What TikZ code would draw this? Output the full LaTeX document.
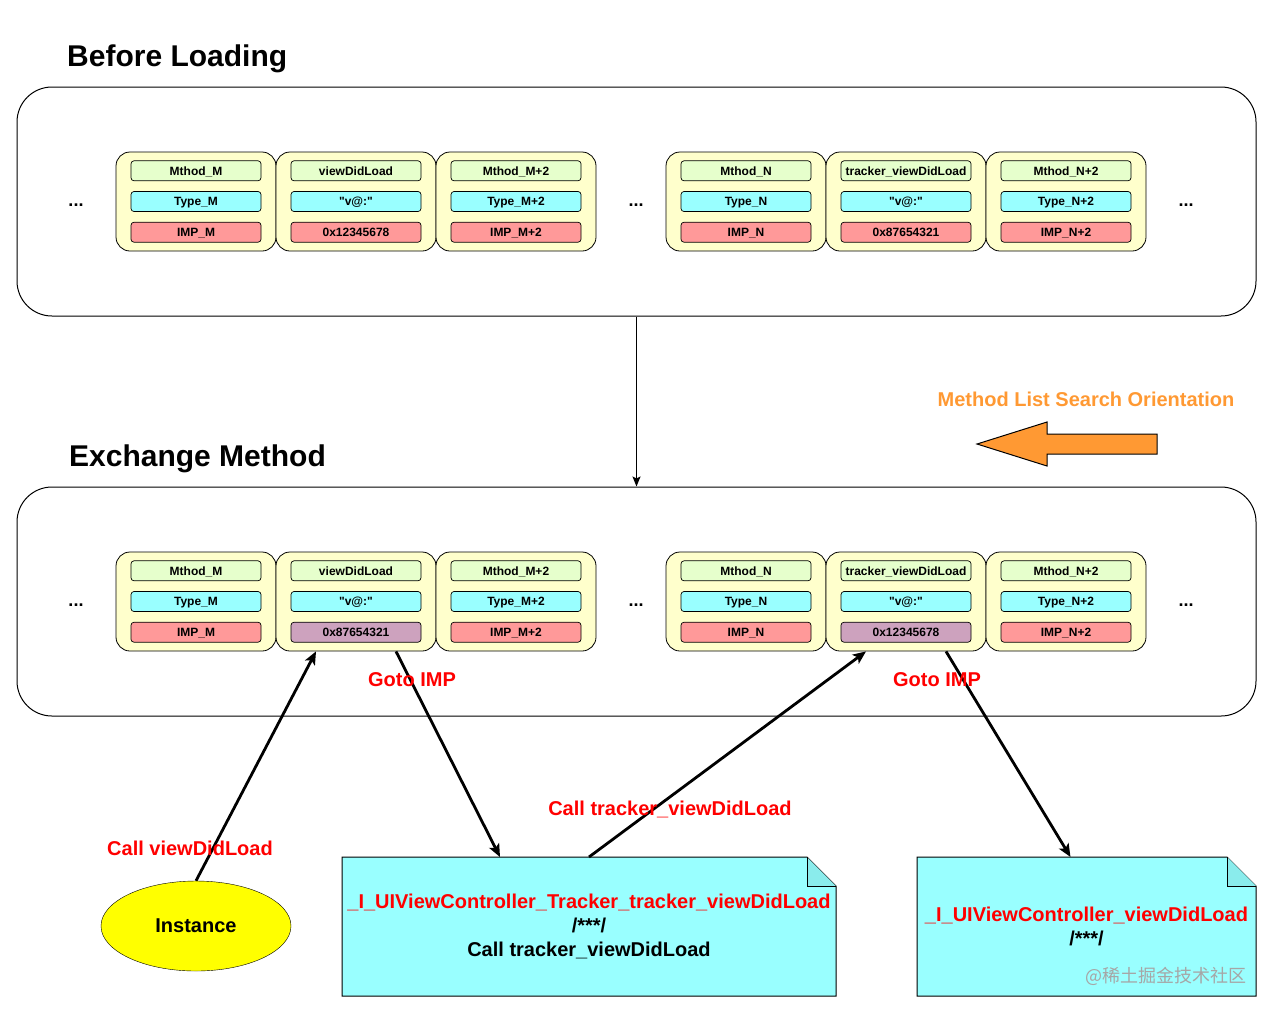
\documentclass[tikz,border=0pt]{standalone}
\usepackage{fontspec}
\setmainfont{Liberation Sans}
\newfontfamily\cjkfont{Noto Sans CJK SC}
\usetikzlibrary{
    arrows.meta,
    positioning,
    backgrounds,
    shapes.geometric
}
\newcommand{\fsz}[1]{\fontsize{#1}{#1}\selectfont}
\definecolor{CardYellow}{RGB}{255,255,204}
\definecolor{NameGreen}{RGB}{230,255,204}
\definecolor{TypeCyan}{RGB}{153,255,255}
\definecolor{ImpRed}{RGB}{255,153,153}
\definecolor{ImpSwap}{RGB}{205,162,190}
\definecolor{ArrowOrange}{RGB}{255,153,51}
\definecolor{NoteCyan}{RGB}{153,255,255}
\definecolor{FoldCyan}{RGB}{138,236,236}
\definecolor{InstYellow}{RGB}{255,255,0}
\definecolor{TextRed}{RGB}{255,0,0}
\tikzset{
  outerbox/.style = {draw, rounded corners=35pt, minimum width=1239pt,
                     minimum height=229pt, line width=1pt},
  card/.style     = {draw, fill=CardYellow, rounded corners=14pt,
                     minimum width=160pt, minimum height=99pt, line width=0.8pt},
  field/.style    = {draw, rounded corners=3pt, minimum width=130pt,
                     minimum height=20pt, inner sep=0pt, text height=8.6pt,
                     text depth=0pt, font=\fsz{12}\bfseries, line width=0.7pt},
  fname/.style    = {field, fill=NameGreen},
  ftype/.style    = {field, fill=TypeCyan},
  fimp/.style     = {field, fill=ImpRed},
  fswap/.style    = {field, fill=ImpSwap},
  dots/.style     = {font=\fsz{18}\bfseries, inner sep=0pt},
  heading/.style  = {font=\fsz{30}\bfseries, inner sep=0pt},
  redlabel/.style = {font=\fsz{20}\bfseries, text=TextRed, inner sep=0pt},
  notebox/.style  = {minimum width=494pt, minimum height=139pt, outer sep=0pt,
                     align=center, font=\fontsize{20}{24}\selectfont\bfseries},
  notefill/.style = {draw, fill=NoteCyan, line width=1pt},
  callarr/.style  = {-{Stealth[length=13pt, width=11pt, inset=3pt]}, line width=2.8pt},
  thinarr/.style  = {-{Stealth[length=10pt, width=8pt, inset=2pt]}, line width=1.2pt}
}

\begin{document}
\begin{tikzpicture}[x=1pt, y=-1pt]
    \useasboundingbox (0,0) rectangle (1273,1013);

    % before loading
    \node[heading, anchor=base west] (hbefore) at (67,66) {Before Loading};
    \node[outerbox] (loadbox) at (636.5,201.5) {};

    \node[dots] (bd1) at (76,205) {...};
    \node[card] (bm) at (196,201.5) {};
    \node[ftype] (bm-t) at (bm) {Type\_M};
    \node[fname, above=10pt of bm-t] (bm-n) {Mthod\_M};
    \node[fimp, below=10pt of bm-t] (bm-i) {IMP\_M};

    \node[card] (bv) at (356,201.5) {};
    \node[ftype] (bv-t) at (bv) {\textquotedbl v@:\textquotedbl};
    \node[fname, above=10pt of bv-t] (bv-n) {viewDidLoad};
    \node[fimp, below=10pt of bv-t] (bv-i) {0x12345678};

    \node[card] (bm2) at (516,201.5) {};
    \node[ftype] (bm2-t) at (bm2) {Type\_M+2};
    \node[fname, above=10pt of bm2-t] (bm2-n) {Mthod\_M+2};
    \node[fimp, below=10pt of bm2-t] (bm2-i) {IMP\_M+2};

    \node[dots] (bd2) at (636,205) {...};
    \node[card] (bn) at (746,201.5) {};
    \node[ftype] (bn-t) at (bn) {Type\_N};
    \node[fname, above=10pt of bn-t] (bn-n) {Mthod\_N};
    \node[fimp, below=10pt of bn-t] (bn-i) {IMP\_N};

    \node[card] (bt) at (906,201.5) {};
    \node[ftype] (bt-t) at (bt) {\textquotedbl v@:\textquotedbl};
    \node[fname, above=10pt of bt-t] (bt-n) {tracker\_viewDidLoad};
    \node[fimp, below=10pt of bt-t] (bt-i) {0x87654321};

    \node[card] (bn2) at (1066,201.5) {};
    \node[ftype] (bn2-t) at (bn2) {Type\_N+2};
    \node[fname, above=10pt of bn2-t] (bn2-n) {Mthod\_N+2};
    \node[fimp, below=10pt of bn2-t] (bn2-i) {IMP\_N+2};
    \node[dots] (bd3) at (1186,205) {...};

    % search orientation
    \node[font=\fsz{20}\bfseries, text=ArrowOrange, inner sep=0pt, anchor=base]
        (orient) at (1086,406) {Method List Search Orientation};
    \draw[fill=ArrowOrange, line width=1pt] (1157,434) -- (1047,434) -- (1047,422)
        -- (977,444) -- (1047,466) -- (1047,454) -- (1157,454) -- cycle;

    % exchange method
    \node[heading, anchor=base west] (hxchg) at (69,466) {Exchange Method};
    \node[outerbox] (xchgbox) at (636.5,601.5) {};
    \draw[thinarr] (loadbox) -- (xchgbox);

    \node[dots] (xd1) at (76,605) {...};
    \node[card] (xm) at (196,601.5) {};
    \node[ftype] (xm-t) at (xm) {Type\_M};
    \node[fname, above=10pt of xm-t] (xm-n) {Mthod\_M};
    \node[fimp, below=10pt of xm-t] (xm-i) {IMP\_M};

    \node[card] (xv) at (356,601.5) {};
    \node[ftype] (xv-t) at (xv) {\textquotedbl v@:\textquotedbl};
    \node[fname, above=10pt of xv-t] (xv-n) {viewDidLoad};
    \node[fswap, below=10pt of xv-t] (xv-i) {0x87654321};

    \node[card] (xm2) at (516,601.5) {};
    \node[ftype] (xm2-t) at (xm2) {Type\_M+2};
    \node[fname, above=10pt of xm2-t] (xm2-n) {Mthod\_M+2};
    \node[fimp, below=10pt of xm2-t] (xm2-i) {IMP\_M+2};

    \node[dots] (xd2) at (636,605) {...};
    \node[card] (xn) at (746,601.5) {};
    \node[ftype] (xn-t) at (xn) {Type\_N};
    \node[fname, above=10pt of xn-t] (xn-n) {Mthod\_N};
    \node[fimp, below=10pt of xn-t] (xn-i) {IMP\_N};

    \node[card] (xt) at (906,601.5) {};
    \node[ftype] (xt-t) at (xt) {\textquotedbl v@:\textquotedbl};
    \node[fname, above=10pt of xt-t] (xt-n) {tracker\_viewDidLoad};
    \node[fswap, below=10pt of xt-t] (xt-i) {0x12345678};

    \node[card] (xn2) at (1066,601.5) {};
    \node[ftype] (xn2-t) at (xn2) {Type\_N+2};
    \node[fname, above=10pt of xn2-t] (xn2-n) {Mthod\_N+2};
    \node[fimp, below=10pt of xn2-t] (xn2-i) {IMP\_N+2};
    \node[dots] (xd3) at (1186,605) {...};

    % instance and implementations
    \node[ellipse, draw, fill=InstYellow, minimum width=190pt, minimum height=90pt,
          font=\fsz{20}\bfseries] (inst) at (196,926) {Instance};

    \node[notebox] (impA) at (589,926.5)
        {\textcolor{TextRed}{\_I\_UIViewController\_Tracker\_tracker\_viewDidLoad}\\
         /***/\\Call tracker\_viewDidLoad};
    \node[notebox, minimum width=339pt] (impB) at (1086.5,926.5)
        {\textcolor{TextRed}{\_I\_UIViewController\_viewDidLoad}\\/***/};
    \node[font=\cjkfont\fsz{18}, text=black!35, inner sep=0pt] (wmark) at (1166,976)
        {@稀土掘金技术社区};

    \begin{scope}[on background layer]
      \foreach \nb in {impA, impB} {
        \draw[notefill] (\nb.south west) -- (\nb.north west)
            -- ([xshift=-29pt]\nb.north east) -- ([yshift=-29pt]\nb.north east)
            -- (\nb.south east) -- cycle;
        \draw[fill=FoldCyan, line width=0.8pt] ([xshift=-29pt]\nb.north east)
            -- ([xshift=-29pt, yshift=-29pt]\nb.north east) -- ([yshift=-29pt]\nb.north east);
      }
    \end{scope}

    \draw[callarr] (inst.north) -- ([xshift=-40pt]xv.south);
    \draw[callarr] ([xshift=40pt]xv.south) -- ([xshift=-89pt]impA.north);
    \draw[callarr] (impA.north) -- ([xshift=-40pt]xt.south);
    \draw[callarr] ([xshift=40pt]xt.south) -- ([xshift=-16pt]impB.north);

    \node[redlabel, anchor=base] (gotoA) at (412,686) {Goto IMP};
    \node[redlabel, anchor=base] (gotoB) at (937,686) {Goto IMP};
    \node[redlabel, anchor=base] (callA) at (190,855) {Call viewDidLoad};
    \node[redlabel, anchor=base] (callB) at (670,815) {Call tracker\_viewDidLoad};
\end{tikzpicture}
\end{document}
